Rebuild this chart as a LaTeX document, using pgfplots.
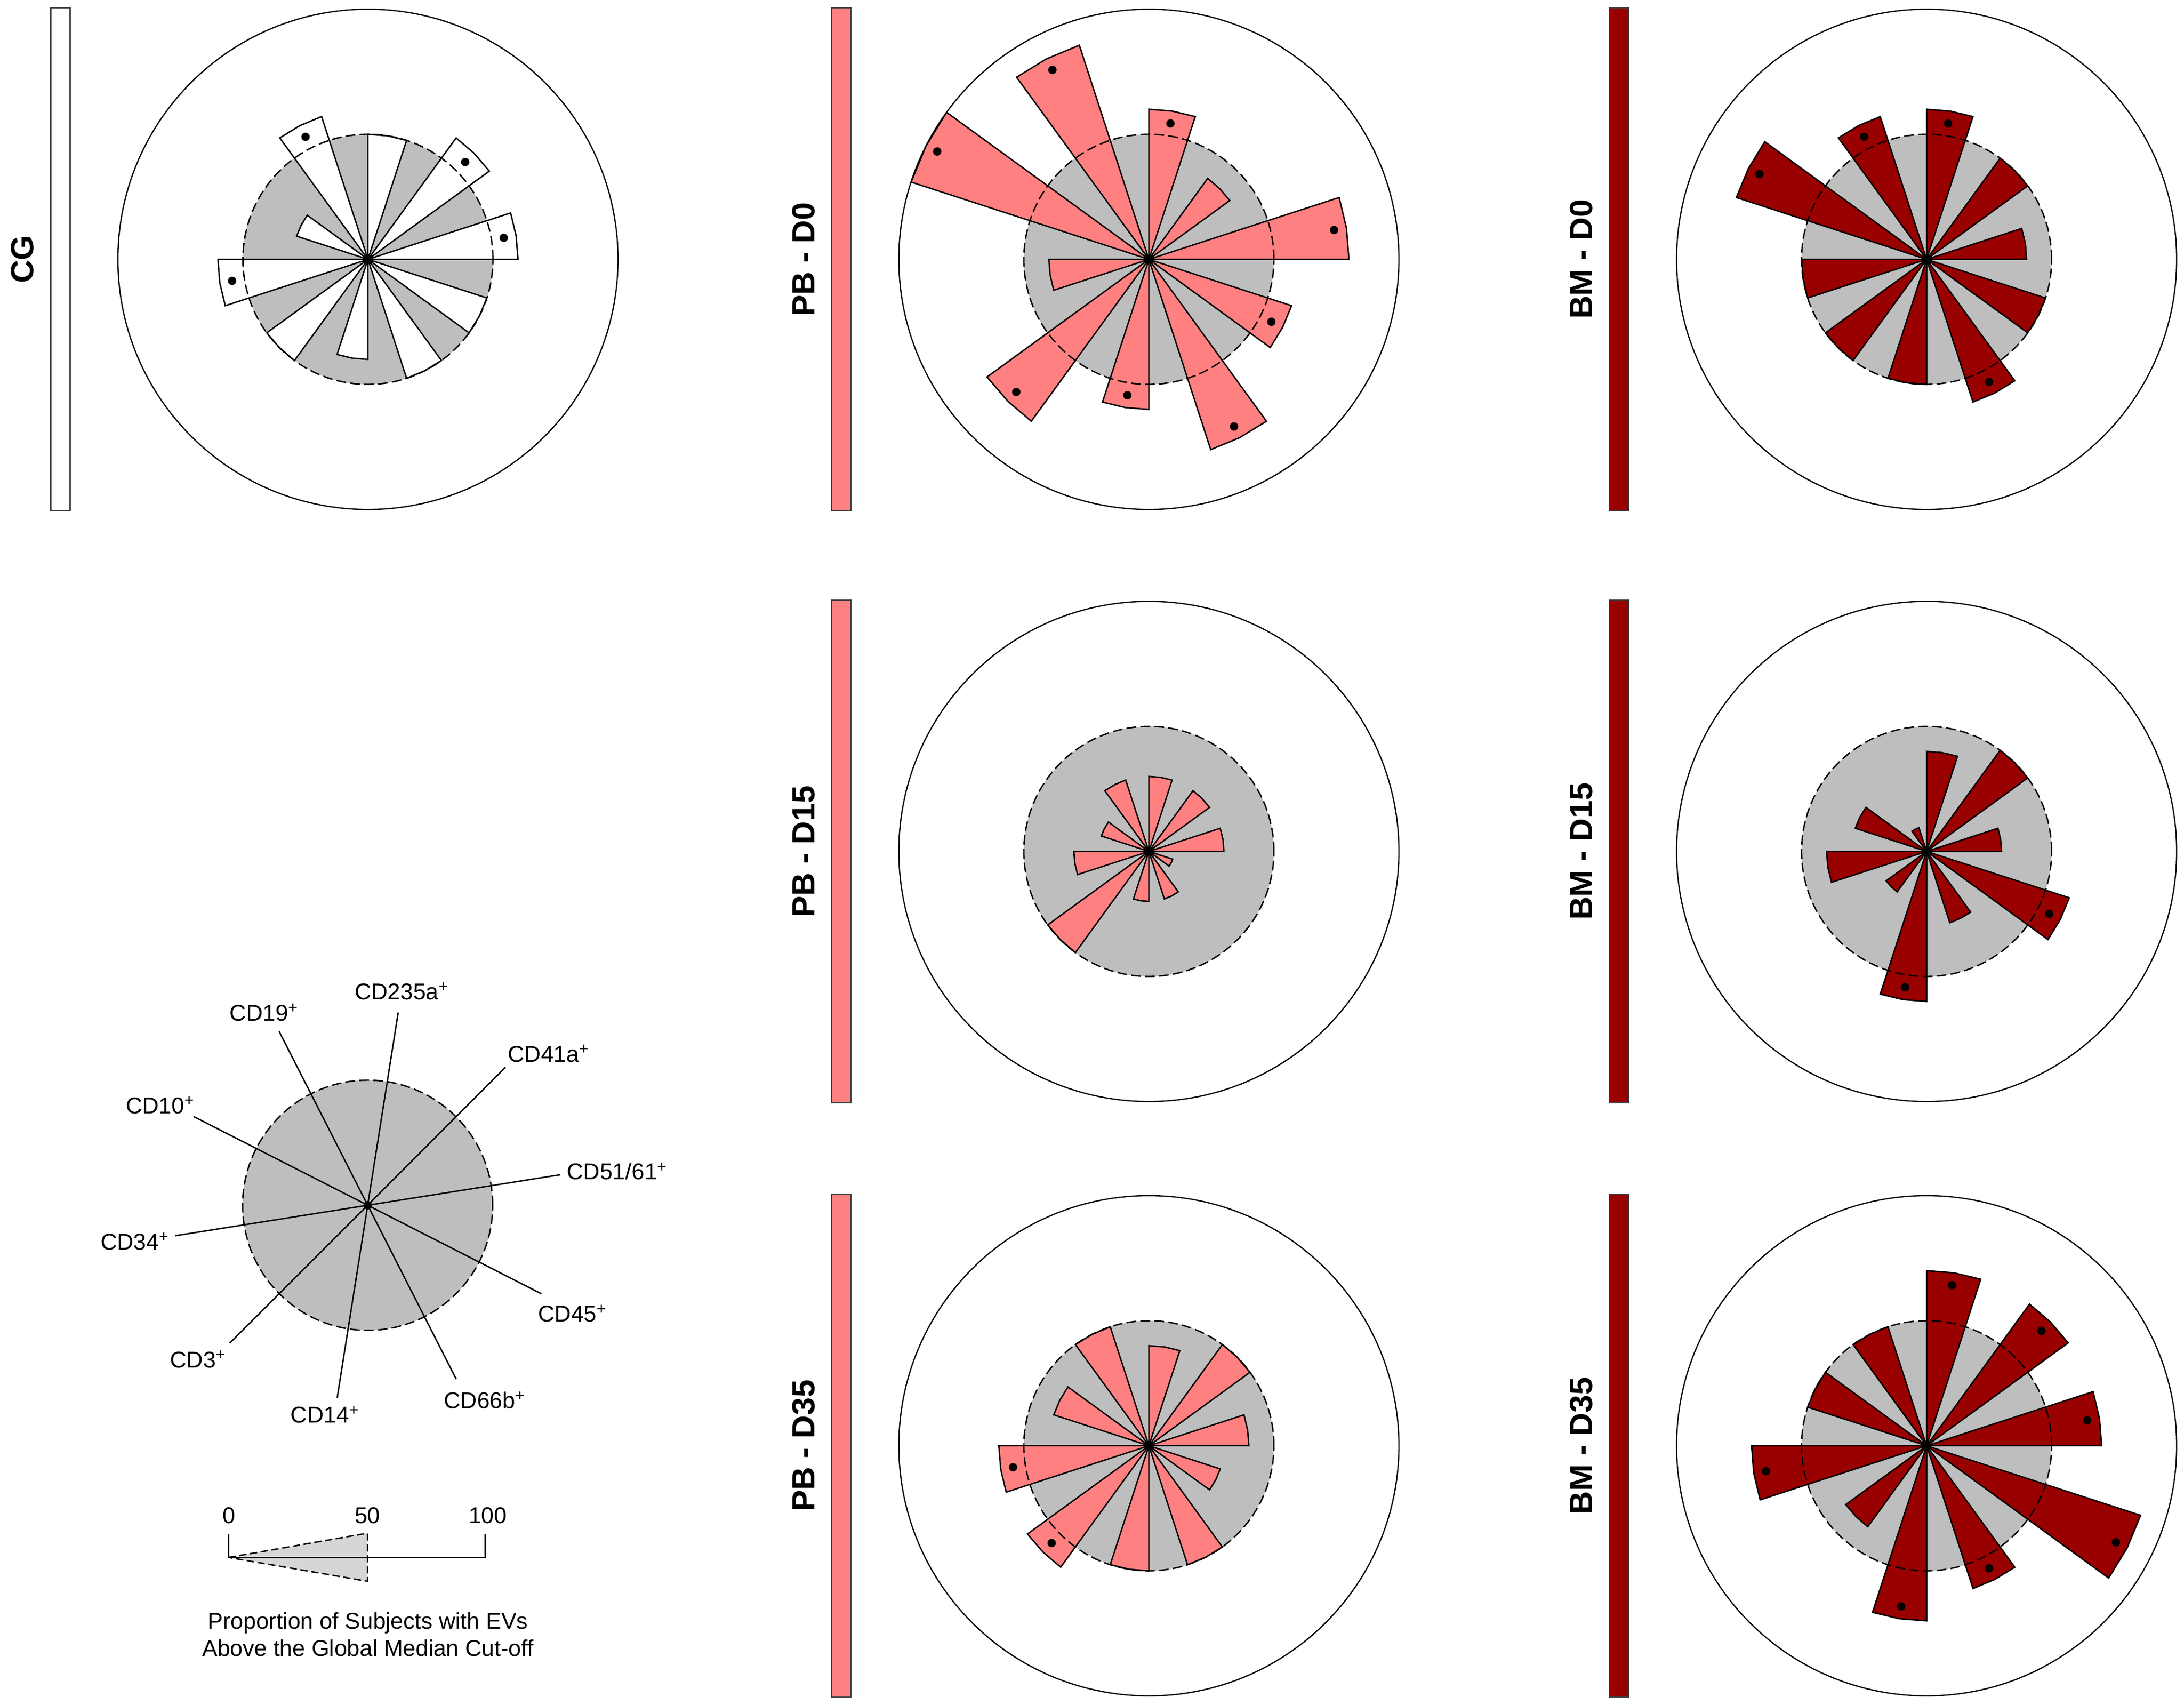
\documentclass[border=0pt]{standalone}
\usepackage{pgfplots}
\pgfplotsset{compat=1.18}
\usepgfplotslibrary{polar}
\usepackage{fontspec}
\setmainfont{Liberation Sans}
\definecolor{diskgray}{RGB}{190,190,190}
\definecolor{pinkc}{RGB}{255,128,128}
\definecolor{darkredc}{RGB}{153,0,0}
\definecolor{bordergray}{RGB}{64,64,64}
\definecolor{trigray}{RGB}{214,214,214}

\pgfplotsset{
 panel/.style={anchor=center, x=0.897pt, y=0.897pt, xmin=-100, xmax=100, ymin=-100, ymax=100, hide axis, clip=false},
 wedge/.style={data cs=polar, draw=black, line width=0.5pt, fill=\wfill, mark=none},
 sig/.style={data cs=polar, only marks, mark=*, mark size=1.3pt, black, mark options={fill=black, draw=black}},
}
% one wedge: start angle, centre angle, end angle, value (%)
\newcommand{\wdg}[4]{\addplot[wedge] coordinates {(0,0) (#1,#4) (#2,#4) (#3,#4)} --cycle;}
\newcommand{\cdA}[1]{\wdg{72}{81}{90}{#1}}        % CD235a
\newcommand{\cdB}[1]{\wdg{36}{45}{54}{#1}}        % CD41a
\newcommand{\cdC}[1]{\wdg{0}{9}{18}{#1}}          % CD51/61
\newcommand{\cdD}[1]{\wdg{-36}{-27}{-18}{#1}}     % CD45
\newcommand{\cdE}[1]{\wdg{-72}{-63}{-54}{#1}}     % CD66b
\newcommand{\cdF}[1]{\wdg{-108}{-99}{-90}{#1}}    % CD14
\newcommand{\cdG}[1]{\wdg{-144}{-135}{-126}{#1}}  % CD3
\newcommand{\cdH}[1]{\wdg{-180}{-171}{-162}{#1}}  % CD34
\newcommand{\cdI}[1]{\wdg{144}{153}{162}{#1}}     % CD10
\newcommand{\cdJ}[1]{\wdg{108}{117}{126}{#1}}     % CD19
\newcommand{\bg}{\fill[diskgray] (axis cs:0,0) circle[radius=44.85pt];
  \draw[line width=0.45pt] (axis cs:0,0) circle[radius=89.7pt];}
\newcommand{\fg}{\draw[line width=0.5pt, dash pattern=on 3.5pt off 1.5pt] (axis cs:0,0) circle[radius=44.85pt];
  \fill (axis cs:0,0) circle[radius=1.1pt];}
\newcommand{\lab}{\fontsize{8.2}{10}\selectfont}
\newcommand{\rowlab}{\fontsize{11.5}{13}\selectfont\bfseries}

\begin{document}
\begin{tikzpicture}
\path[use as bounding box] (0,0) rectangle (783.5pt,-611.3pt);

% ---------- CG ----------
\def\wfill{white}
\begin{axis}[panel, at={(132pt,-93pt)}]
\bg
\cdA{50}\cdB{60}\cdC{60}\cdD{50}\cdE{50}\cdF{40}\cdG{50}\cdH{60}\cdI{30}\cdJ{60}
\fg
\addplot[sig] coordinates {(45,55) (9,55) (-171,55) (117,55)};
\end{axis}

% ---------- PB - D0 ----------
\def\wfill{pinkc}
\begin{axis}[panel, at={(412.15pt,-93pt)}]
\bg
\cdA{60}\cdB{40}\cdC{80}\cdD{60}\cdE{80}\cdF{60}\cdG{80}\cdH{40}\cdI{100}\cdJ{90}
\fg
\addplot[sig] coordinates {(81,55) (9,75) (-27,55) (-63,75) (-99,55) (-135,75) (153,95) (117,85)};
\end{axis}

% ---------- BM - D0 ----------
\def\wfill{darkredc}
\begin{axis}[panel, at={(691.15pt,-93pt)}]
\bg
\cdA{60}\cdB{50}\cdC{40}\cdD{50}\cdE{60}\cdF{50}\cdG{50}\cdH{50}\cdI{80}\cdJ{60}
\fg
\addplot[sig] coordinates {(81,55) (-63,55) (153,75) (117,55)};
\end{axis}

% ---------- PB - D15 ----------
\def\wfill{pinkc}
\begin{axis}[panel, at={(412.15pt,-305.35pt)}]
\bg
\cdA{30}\cdB{30}\cdC{30}\cdD{10}\cdE{20}\cdF{20}\cdG{50}\cdH{30}\cdI{20}\cdJ{30}
\fg
\end{axis}

% ---------- BM - D15 ----------
\def\wfill{darkredc}
\begin{axis}[panel, at={(691.15pt,-305.35pt)}]
\bg
\cdA{40}\cdB{50}\cdC{30}\cdD{60}\cdE{30}\cdF{60}\cdG{20}\cdH{40}\cdI{30}\cdJ{10}
\fg
\addplot[sig] coordinates {(-27,55) (-99,55)};
\end{axis}

% ---------- PB - D35 ----------
\def\wfill{pinkc}
\begin{axis}[panel, at={(412.15pt,-518.5pt)}]
\bg
\cdA{40}\cdB{50}\cdC{40}\cdD{30}\cdE{50}\cdF{50}\cdG{60}\cdH{60}\cdI{40}\cdJ{50}
\fg
\addplot[sig] coordinates {(-135,55) (-171,55)};
\end{axis}

% ---------- BM - D35 ----------
\def\wfill{darkredc}
\begin{axis}[panel, at={(691.15pt,-518.5pt)}]
\bg
\cdA{70}\cdB{70}\cdC{70}\cdD{90}\cdE{60}\cdF{70}\cdG{40}\cdH{70}\cdI{50}\cdJ{50}
\fg
\addplot[sig] coordinates {(81,65) (45,65) (9,65) (-27,85) (-63,55) (-99,65) (-171,65)};
\end{axis}

% ---------- legend rose ----------
\begin{axis}[panel, at={(131.9pt,-432.25pt)}]
\fill[diskgray] (axis cs:0,0) circle[radius=44.85pt];
\draw[line width=0.5pt, dash pattern=on 3.5pt off 1.5pt] (axis cs:0,0) circle[radius=44.85pt];
\addplot[data cs=polar, black, line width=0.5pt, mark=none] coordinates {(81,78) (-99,78)};
\addplot[data cs=polar, black, line width=0.5pt, mark=none] coordinates {(45,78) (-135,78)};
\addplot[data cs=polar, black, line width=0.5pt, mark=none] coordinates {(9,78) (-171,78)};
\addplot[data cs=polar, black, line width=0.5pt, mark=none] coordinates {(-27,78) (153,78)};
\addplot[data cs=polar, black, line width=0.5pt, mark=none] coordinates {(-63,78) (117,78)};
\fill (axis cs:0,0) circle[radius=1.5pt];
\end{axis}

% ---------- labels, bars, scale ----------
\begin{scope}[x=0.5pt, y=-0.5pt]
% colour bars
\draw[fill=white, draw=bordergray, line width=0.5pt] (36.4,5.7) rectangle (50.2,366.3);
\draw[fill=pinkc, draw=bordergray, line width=0.5pt] (596.7,5.7) rectangle (610.5,366.3);
\draw[fill=pinkc, draw=bordergray, line width=0.5pt] (596.7,430.4) rectangle (610.5,791);
\draw[fill=pinkc, draw=bordergray, line width=0.5pt] (596.7,856.7) rectangle (610.5,1217.3);
\draw[fill=darkredc, draw=bordergray, line width=0.5pt] (1154.7,5.7) rectangle (1168.5,366.3);
\draw[fill=darkredc, draw=bordergray, line width=0.5pt] (1154.7,430.4) rectangle (1168.5,791);
\draw[fill=darkredc, draw=bordergray, line width=0.5pt] (1154.7,856.7) rectangle (1168.5,1217.3);
% row labels
\node[rotate=90, anchor=base, inner sep=0pt, font=\rowlab] at (24,186) {CG};
\node[rotate=90, anchor=base, inner sep=0pt, font=\rowlab] at (584.3,186) {PB - D0};
\node[rotate=90, anchor=base, inner sep=0pt, font=\rowlab] at (584.3,610.7) {PB - D15};
\node[rotate=90, anchor=base, inner sep=0pt, font=\rowlab] at (584.3,1037) {PB - D35};
\node[rotate=90, anchor=base, inner sep=0pt, font=\rowlab] at (1142.3,186) {BM - D0};
\node[rotate=90, anchor=base, inner sep=0pt, font=\rowlab] at (1142.3,610.7) {BM - D15};
\node[rotate=90, anchor=base, inner sep=0pt, font=\rowlab] at (1142.3,1037) {BM - D35};
% category labels
\node[anchor=base, inner sep=0pt, font=\lab] at (288.5,717.1) {CD235a\textsuperscript{+}};
\node[anchor=base, inner sep=0pt, font=\lab] at (189.7,732.3) {CD19\textsuperscript{+}};
\node[anchor=base, inner sep=0pt, font=\lab] at (393.8,761.7) {CD41a\textsuperscript{+}};
\node[anchor=base, inner sep=0pt, font=\lab] at (115.2,798.7) {CD10\textsuperscript{+}};
\node[anchor=base, inner sep=0pt, font=\lab] at (443,846.2) {CD51/61\textsuperscript{+}};
\node[anchor=base, inner sep=0pt, font=\lab] at (97,896.6) {CD34\textsuperscript{+}};
\node[anchor=base, inner sep=0pt, font=\lab] at (411,948.2) {CD45\textsuperscript{+}};
\node[anchor=base, inner sep=0pt, font=\lab] at (142.3,981) {CD3\textsuperscript{+}};
\node[anchor=base, inner sep=0pt, font=\lab] at (348,1010.4) {CD66b\textsuperscript{+}};
\node[anchor=base, inner sep=0pt, font=\lab] at (233.4,1020.7) {CD14\textsuperscript{+}};
% scale
\draw[fill=trigray, line width=0.5pt, dash pattern=on 2.6pt off 1.3pt] (164,1117.1) -- (263.7,1099.7) -- (263.7,1134.2) -- cycle;
\draw[line width=0.5pt] (164,1100.3) -- (164,1117.1) -- (348,1117.1) -- (348,1100.3);
\node[anchor=base, inner sep=0pt, font=\lab] at (164.3,1092.6) {0};
\node[anchor=base, inner sep=0pt, font=\lab] at (263.7,1092.6) {50};
\node[anchor=base, inner sep=0pt, font=\lab] at (349.9,1092.6) {100};
\node[anchor=base, inner sep=0pt, font=\lab] at (264,1168.3) {Proportion of Subjects with EVs};
\node[anchor=base, inner sep=0pt, font=\lab] at (264,1188) {Above the Global Median Cut-off};
\end{scope}
\end{tikzpicture}
\end{document}
